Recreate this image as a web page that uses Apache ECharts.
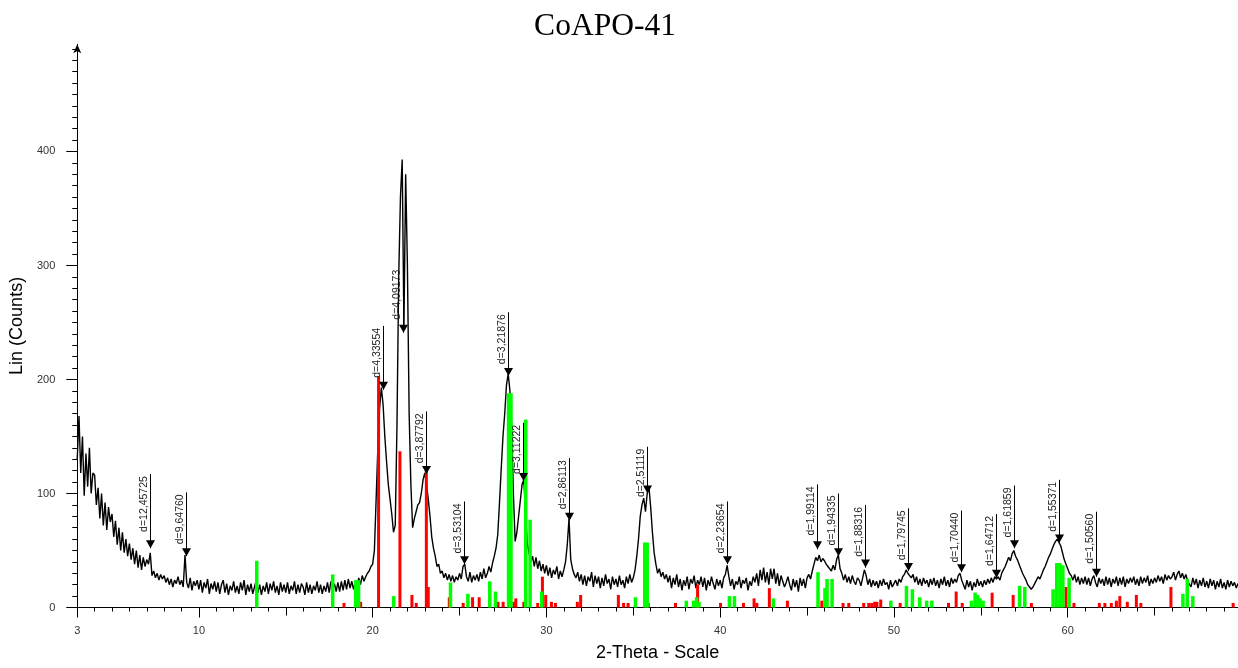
<!DOCTYPE html>
<html>
<head>
<meta charset="utf-8">
<script src="https://cdn.jsdelivr.net/npm/echarts@6.0.0/dist/echarts.min.js"></script>
<style>
html,body{margin:0;padding:0;background:#fff;}
#xrd{width:1238px;height:668px;}
</style>
</head>
<body>
<div id="xrd"></div>
<script>
// measured pattern: counts every 0.1 deg 2-theta, starting at 3.0
var thetaStart = 3.0;
var thetaStep = 0.1;
var counts = [
  130,168,118,150,98,135,106,140,100,118,
  116,90,105,78,100,72,92,68,88,75,
  82,62,76,55,70,50,66,48,60,45,
  56,42,52,38,50,35,46,33,44,36,
  42,38,48,28,32,26,30,24,29,25,
  28,22,26,20,25,18,24,21,27,20,
  24,18,46,22,17,26,15,23,19,24,
  16,24,13,22,17,25,12,21,16,23,
  14,22,12,20,24,13,21,11,19,15,
  23,13,19,12,22,15,24,11,20,14,
  21,12,18,24,13,20,11,19,14,22,
  12,21,15,23,13,19,11,22,14,20,
  13,22,12,19,15,23,12,20,13,21,
  18,11,22,13,20,12,19,15,23,13,
  20,12,19,14,22,13,23,15,21,14,
  22,14,23,15,24,16,25,17,23,16,
  22,18,26,20,28,23,27,30,32,36,
  38,50,95,140,175,193,178,150,128,108,
  95,82,66,72,160,290,360,393,245,380,
  300,170,108,70,78,84,90,92,100,112,
  118,108,95,80,62,52,45,36,38,30,
  32,26,30,24,29,23,28,22,27,24,
  30,25,36,38,27,23,31,22,28,24,
  29,23,31,25,34,26,30,36,31,39,
  45,52,64,92,122,150,170,195,205,190,
  160,100,58,66,80,94,108,112,82,56,
  48,40,45,36,44,34,41,32,38,30,
  37,28,35,26,33,29,36,25,32,27,
  33,40,55,78,42,34,29,26,31,23,
  29,20,28,19,27,23,31,18,28,21,
  27,17,26,19,29,21,25,16,27,20,
  25,18,28,20,24,17,27,21,29,22,
  26,33,45,60,80,90,96,84,100,106,
  88,66,48,38,30,34,27,31,25,29,
  22,28,17,26,20,29,18,25,15,24,
  19,27,16,25,21,28,17,24,20,27,
  18,26,15,24,19,27,21,16,25,19,
  24,17,26,29,37,27,19,25,16,23,
  20,27,17,24,21,26,15,23,19,27,
  22,30,19,33,24,35,22,31,20,34,
  25,34,21,30,19,28,23,18,22,27,
  20,15,25,18,24,14,26,19,25,17,
  26,29,25,32,38,44,41,46,40,43,
  41,38,36,34,32,37,33,42,46,34,
  30,24,29,22,27,21,28,23,20,26,
  24,19,26,33,28,20,25,18,24,19,
  23,17,24,19,25,20,22,16,24,18,
  21,24,19,25,22,27,29,33,30,28,
  26,29,22,27,20,25,19,26,21,24,
  18,25,20,26,19,24,17,25,20,27,
  19,24,18,26,21,25,22,28,30,24,
  20,16,24,18,23,15,22,18,25,19,
  23,18,24,20,25,21,26,22,27,25,
  27,24,30,33,36,40,44,41,47,50,
  45,42,38,34,30,27,24,20,18,16,
  18,21,24,27,25,29,33,36,40,44,
  47,51,55,58,60,57,54,48,42,38,
  34,30,28,24,29,22,27,20,26,21,
  27,20,26,19,25,28,22,18,26,21,
  25,19,27,20,26,18,25,21,27,19,
  26,20,27,18,25,21,26,22,27,20,
  25,19,27,21,26,22,28,19,25,21,
  26,22,28,23,27,21,29,24,28,25,
  27,31,24,29,32,26,30,25,29,23,
  24,18,26,20,25,17,24,19,26,18,
  23,17,25,19,24,16,23,18,25,17,
  22,16,24,18,23,19,22,17,21
];

// reference pattern sticks [2-theta, counts]
var redSticks = [
  [18.35,4],[19.31,5],[20.34,203],[21.57,137],[22.26,11],[22.51,4],[23.09,121],[23.2,18],
  [24.41,9],[25.21,4],[25.75,9],[26.13,9],[27.22,5],[27.51,5],[28.12,5],[28.24,8],[28.7,5],
  [29.5,4],[29.77,27],[29.96,11],[30.29,5],[30.52,4],[31.78,5],[31.97,11],[34.14,11],
  [34.44,4],[34.7,4],[35.86,4],[37.43,4],[38.7,20],[40.02,4],[41.34,4],[41.95,8],[42.11,4],
  [42.83,17],[43.87,6],[45.85,6],[47.07,4],[47.4,4],[48.26,4],[48.55,4],[48.72,4],[48.89,5],
  [49.02,5],[49.24,7],[50.36,4],[53.14,4],[53.58,14],[53.93,4],[55.65,13],[56.86,11],
  [57.91,4],[59.9,18],[60.36,4],[61.82,4],[62.14,4],[62.51,4],[62.8,6],[63.0,10],[63.43,5],
  [63.95,11],[64.21,4],[65.94,18],[69.52,4]
];
var greenSticks = [
  [13.33,41],[17.7,29],[19.02,24],[19.19,24],[21.21,10],[24.48,22],[25.48,12],[26.74,23],
  [27.07,14],[27.82,188],[27.96,188],[28.81,165],[29.06,77],[29.73,14],[35.12,9],[35.66,57],
  [35.8,57],[38.05,6],[38.47,6],[38.64,9],[38.78,5],[40.53,10],[40.82,10],[43.06,8],
  [45.63,31],[46.03,17],[46.15,25],[46.44,25],[49.82,6],[50.72,19],[51.06,16],[51.48,9],
  [51.88,6],[52.18,6],[54.46,6],[54.67,13],[54.81,11],[54.96,8],[55.13,6],[57.23,19],
  [57.53,18],[59.16,16],[59.37,39],[59.55,39],[59.72,37],[60.08,26],[66.63,12],[66.88,25],
  [67.2,10]
];

// peak search marks
var dText = ['d=12,45725','d=9,64760','d=4,33554','d=4,09173','d=3,87792','d=3,53104','d=3,21876',
  'd=3,11222','d=2,86113','d=2,51119','d=2,23654','d=1,99114','d=1,94335','d=1,88316','d=1,79745',
  'd=1,70440','d=1,64712','d=1,61859','d=1,55371','d=1,50560'];
var dTheta = [7.19,9.26,20.57,21.77,23.07,25.27,27.8,28.64,31.32,35.79,40.39,45.56,46.8,48.33,50.79,
  53.85,55.86,56.92,59.5,61.63];
var dTip = [52,45,191,241,117,38,203,111,76,100,38,51,45,35,32,31,26,52,57,27];
var dTop = [117,101,247,298,172,93,259,162,131,141,93,108,100,90,87,85,82,107,112,84];

var xMajor = [3,10,20,30,40,50,60];
var xMid = [15,25,35,45,55,65];
var yMajor = [0,100,200,300,400];

var tracePts = counts.map(function (c, i) {
  return [+(thetaStart + i * thetaStep).toFixed(2), c];
});
var peakPts = dTheta.map(function (t, i) { return [t, dTip[i], dTop[i]]; });

var xMinor = [], yMinor = [];
for (var k = 4; k <= 69; k++) xMinor.push(k);
for (var v = 10; v <= 490; v += 10) yMinor.push(v);

var font = '"Liberation Sans", Arial, sans-serif';

function stickRenderer(color, w) {
  return function (params, api) {
    var base = api.coord([api.value(0), 0]);
    var tip = api.coord([api.value(0), api.value(1)]);
    return {
      type: 'rect',
      shape: { x: base[0] - w / 2, y: tip[1], width: w, height: base[1] - tip[1] },
      style: { fill: color }
    };
  };
}

function peakRenderer(params, api) {
  var i = params.dataIndex;
  var tip = api.coord([api.value(0), api.value(1)]);
  var top = api.coord([api.value(0), api.value(2)]);
  var x = Math.round(tip[0]) + 0.5;
  return {
    type: 'group',
    children: [
      { type: 'line', shape: { x1: x, y1: top[1], x2: x, y2: tip[1] },
        style: { stroke: '#000', lineWidth: 1 } },
      { type: 'polygon', shape: { points: [[x - 4.5, tip[1] - 8], [x + 4.5, tip[1] - 8], [x, tip[1]]] },
        style: { fill: '#000' } },
      { type: 'text', x: x - 1, y: top[1] + 2, rotation: Math.PI / 2,
        style: { text: dText[i], font: '10.5px ' + font, fill: '#222', align: 'right', verticalAlign: 'bottom' } }
    ]
  };
}

var chart = echarts.init(document.getElementById('xrd'));
var option = {
  animation: false,
  backgroundColor: '#fff',
  title: {
    text: 'CoAPO-41',
    left: 600,
    top: 6,
    textAlign: 'center',
    textStyle: { fontFamily: '"Liberation Serif", serif', fontSize: 31.5, fontWeight: 'normal', color: '#000' }
  },
  grid: { left: 75.5, right: 0, top: 44.3, bottom: 60.5 },
  xAxis: [
    {
      type: 'value', min: 3, max: 69.8, position: 'bottom',
      name: '2-Theta - Scale', nameLocation: 'middle', nameGap: 37,
      nameTextStyle: { fontFamily: font, fontSize: 18, color: '#000' },
      axisLine: { lineStyle: { color: '#000', width: 1 } },
      axisTick: { customValues: xMajor, length: 10, lineStyle: { color: '#000' } },
      axisLabel: { customValues: xMajor, margin: 18, fontFamily: font, fontSize: 11, color: '#333' },
      splitLine: { show: false }
    },
    {
      type: 'value', min: 3, max: 69.8, position: 'bottom',
      axisLine: { show: false },
      axisTick: { customValues: xMid, length: 8, lineStyle: { color: '#000' } },
      axisLabel: { show: false },
      splitLine: { show: false }
    },
    {
      type: 'value', min: 3, max: 69.8, position: 'bottom',
      axisLine: { show: false },
      axisTick: { customValues: xMinor, length: 4, lineStyle: { color: '#000' } },
      axisLabel: { show: false },
      splitLine: { show: false }
    }
  ],
  yAxis: [
    {
      type: 'value', min: 0, max: 494, position: 'left',
      name: 'Lin (Counts)', nameLocation: 'middle', nameGap: 46,
      nameTextStyle: { fontFamily: font, fontSize: 18, color: '#000' },
      axisLine: { show: true, symbol: ['none', 'arrow'], symbolSize: [6, 9], lineStyle: { color: '#000', width: 1 } },
      axisTick: { customValues: yMajor, length: 11, lineStyle: { color: '#000' } },
      axisLabel: { customValues: yMajor, margin: 22, fontFamily: font, fontSize: 11, color: '#333' },
      splitLine: { show: false }
    },
    {
      type: 'value', min: 0, max: 494, position: 'left',
      axisLine: { show: false },
      axisTick: { customValues: yMinor, length: 5, lineStyle: { color: '#000' } },
      axisLabel: { show: false },
      splitLine: { show: false }
    }
  ],
  series: [
    {
      name: 'CoAPO-41', type: 'line', data: tracePts, showSymbol: false, symbol: 'none',
      lineStyle: { color: '#000', width: 1.4 }, z: 2
    },
    {
      name: 'ref-red', type: 'custom', data: redSticks, renderItem: stickRenderer('#ff0000', 3), z: 3
    },
    {
      name: 'ref-green', type: 'custom', data: greenSticks, renderItem: stickRenderer('#00ff00', 3.5), z: 3
    },
    {
      name: 'peaks', type: 'custom', data: peakPts, renderItem: peakRenderer, z: 4
    }
  ]
};
chart.setOption(option);
</script>
</body>
</html>
